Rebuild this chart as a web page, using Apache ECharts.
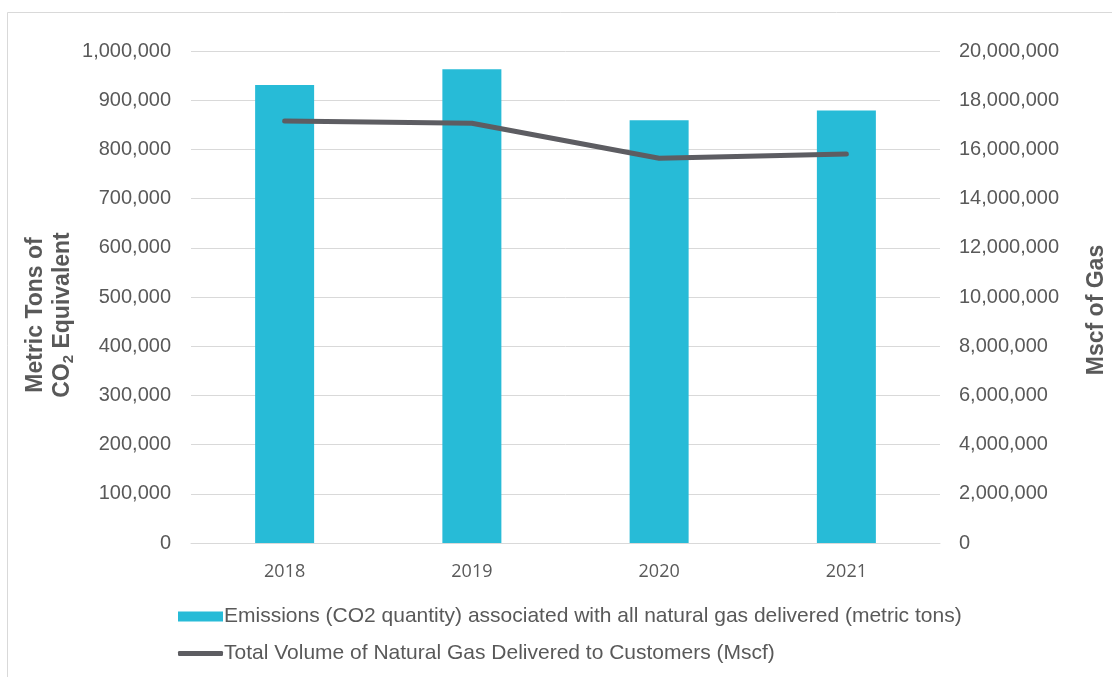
<!DOCTYPE html>
<html>
<head>
<meta charset="utf-8">
<script src="https://cdn.jsdelivr.net/npm/echarts@6/dist/echarts.min.js"></script>
<style>
html,body{margin:0;padding:0;background:#fff;}
#c{width:1112px;height:677px;}
</style>
</head>
<body>
<div id="c"></div>
<script>
const categories = ['2018', '2019', '2020', '2021'];
const emissions = [931000, 963000, 859000, 879000];
const volume = [17150000, 17060000, 15640000, 15810000];
const emissionsName = 'Emissions (CO2 quantity) associated with all natural gas delivered (metric tons)';
const volumeName = 'Total Volume of Natural Gas Delivered to Customers (Mscf)';

const fmt = v => v.toLocaleString('en-US');
const txt = '#595959';
const chart = echarts.init(document.getElementById('c'), null, {renderer: 'canvas'});
chart.setOption({
  animation: false,
  backgroundColor: '#fff',
  graphic: [{
    type: 'rect', shape: {x: 7.5, y: 12.5, width: 1200, height: 800},
    style: {fill: 'none', stroke: '#d9d9d9', lineWidth: 1}, silent: true
  }, {
    type: 'text', x: 49, y: 315, rotation: Math.PI/2, silent: true,
    style: {
      text: '{b|Metric Tons of}\n{b|CO}{s|2}{b| Equivalent}',
      rich: {
        b: {fontFamily: 'Liberation Sans', fontWeight: 'bold', fontSize: 23, fill: txt, lineHeight: 27},
        s: {fontFamily: 'Liberation Sans', fontWeight: 'bold', fontSize: 15, fill: txt, lineHeight: 27, verticalAlign: 'bottom', padding: [10,0,0,0]}
      },
      align: 'center', verticalAlign: 'middle'
    }
  }, {
    type: 'text', x: 1097, y: 310, rotation: Math.PI/2, silent: true,
    style: {
      text: 'Mscf of Gas', fontFamily: 'Liberation Sans', fontWeight: 'bold', fontSize: 23, fill: txt,
      align: 'center', verticalAlign: 'middle'
    }
  }],
  grid: {left: 191, right: 172, top: 51, bottom: 134},
  legend: [{
    data: [{name: emissionsName, icon: 'rect'}],
    left: 173, top: 601, itemWidth: 45, itemHeight: 10, itemGap: 4,
    textStyle: {fontFamily: 'Liberation Sans', fontSize: 21, color: txt, padding: [0,0,0,-4]}
  }, {
    data: [{name: volumeName, icon: 'roundRect'}],
    left: 173, top: 638, itemWidth: 45, itemHeight: 5, itemGap: 4,
    textStyle: {fontFamily: 'Liberation Sans', fontSize: 21, color: txt, padding: [0,0,0,-4]}
  }],
  xAxis: {
    type: 'category', data: categories,
    axisLine: {lineStyle: {color: '#d9d9d9'}},
    axisTick: {show: false},
    axisLabel: {fontFamily: 'Open Sans', fontSize: 18, color: txt, margin: 20}
  },
  yAxis: [{
    type: 'value', min: 0, max: 1000000, interval: 100000,
    axisLabel: {fontFamily: 'Liberation Sans', fontSize: 20, color: txt, margin: 20, formatter: fmt},
    splitLine: {lineStyle: {color: '#d9d9d9'}},
    axisLine: {show: false}, axisTick: {show: false}
  }, {
    type: 'value', min: 0, max: 20000000, interval: 2000000,
    axisLabel: {fontFamily: 'Liberation Sans', fontSize: 20, color: txt, margin: 19, formatter: fmt},
    splitLine: {show: false},
    axisLine: {show: false}, axisTick: {show: false}
  }],
  series: [{
    name: emissionsName, type: 'bar', data: emissions, barWidth: 59,
    itemStyle: {color: '#27BBD7'}
  }, {
    name: volumeName, type: 'line', yAxisIndex: 1, data: volume,
    symbol: 'none', lineStyle: {color: '#5d5d62', width: 5, cap: 'round'},
    itemStyle: {color: '#5d5d62'}
  }]
});
</script>
</body>
</html>
